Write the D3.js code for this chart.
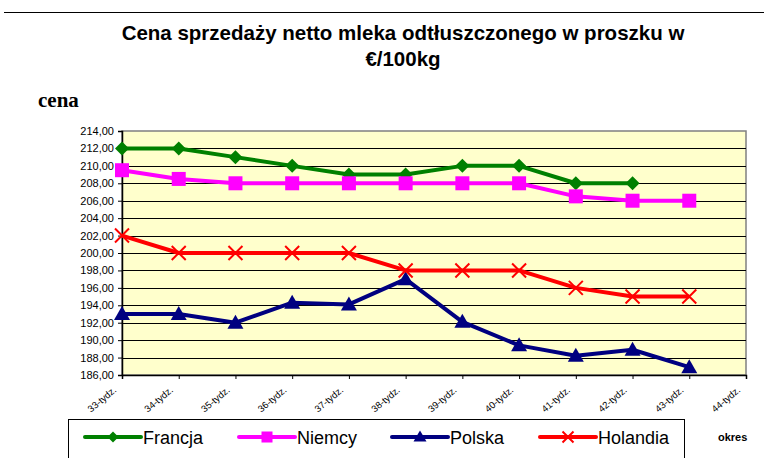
<!DOCTYPE html>
<html>
<head>
<meta charset="utf-8">
<script src="https://cdn.jsdelivr.net/npm/d3@7"></script>
<style>
  body { margin: 0; background: #fff; }
  svg { display: block; font-family: Arial, "Liberation Sans", sans-serif; }
</style>
</head>
<body>
<svg id="svg"></svg>
<script>
'use strict';

// ================================= data ======================================
var weeks = ["33-tydz.", "34-tydz.", "35-tydz.", "36-tydz.", "37-tydz.", "38-tydz.",
             "39-tydz.", "40-tydz.", "41-tydz.", "42-tydz.", "43-tydz.", "44-tydz."];
var francja  = [212, 212, 211, 210, 209, 209, 210, 210, 208, 208, null, null];
var niemcy   = [209.5, 208.5, 208, 208, 208, 208, 208, 208, 206.5, 206, 206, null];
var polska   = [193, 193, 192, 194.3, 194.1, 197, 192.1, 189.4, 188.2, 188.9, 186.9, null];
var holandia = [202, 200, 200, 200, 200, 198, 198, 198, 196, 195, 195, null];
var yTicks = [186, 188, 190, 192, 194, 196, 198, 200, 202, 204, 206, 208, 210, 212, 214];

var seriesNames = ["Francja", "Niemcy", "Polska", "Holandia"];
var seriesValues = [francja, niemcy, polska, holandia];
var seriesColors = ["#008000", "#ff00ff", "#000080", "#ff0000"];
var seriesMarkers = ["diamond", "square", "triangle", "cross"];

// ================================= layout ======================================
var width = 764, height = 458;
var plotL = 122, plotR = 746, plotT = 131, plotB = 375;

var svg = d3.select("#svg").attr("width", width).attr("height", height);

var x = d3.scalePoint().domain(weeks).range([plotL, plotR]);
var y = d3.scaleLinear().domain([186, 214]).range([plotB, plotT]);

var plLocale = d3.formatLocale({ decimal: ",", thousands: " ", grouping: [3], currency: ["", " €"] });
var fmt = plLocale.format(".2f");

// top rule of the page
svg.append("line")
    .attr("x1", 4).attr("x2", width).attr("y1", 12.5).attr("y2", 12.5)
    .attr("stroke", "#000").attr("stroke-width", 1.2);

// title
var title = svg.append("text")
    .attr("text-anchor", "middle")
    .attr("font-weight", "bold")
    .attr("font-size", 20.5)
    .attr("fill", "#000");
title.append("tspan").attr("x", 403).attr("y", 40).text("Cena sprzedaży netto mleka odtłuszczonego w proszku w");
title.append("tspan").attr("x", 403).attr("y", 66).text("€/100kg");

svg.append("text")
    .attr("x", 38).attr("y", 107)
    .attr("font-family", "'Liberation Serif', 'Times New Roman', serif")
    .attr("font-weight", "bold")
    .attr("font-size", 21)
    .text("cena");

// plot area
svg.append("rect")
    .attr("x", plotL).attr("y", plotT)
    .attr("width", plotR - plotL).attr("height", plotB - plotT)
    .attr("fill", "#ffffcc")
    .attr("stroke", "#808080")
    .attr("stroke-width", 1.5);

// gridlines
svg.append("g")
    .selectAll("line")
    .data(yTicks.filter(d => d > 186 && d < 214))
    .join("line")
    .attr("x1", plotL).attr("x2", plotR)
    .attr("y1", d => Math.round(y(d)) + 0.5).attr("y2", d => Math.round(y(d)) + 0.5)
    .attr("stroke", "#000").attr("stroke-width", 1);

// y axis
var yAxis = svg.append("g")
    .attr("transform", "translate(" + plotL + ",0)")
    .call(d3.axisLeft(y).tickValues(yTicks).tickFormat(fmt).tickSize(4).tickPadding(4));
yAxis.select(".domain").attr("stroke", "#000").attr("stroke-width", 1.5);
yAxis.selectAll("text").attr("font-size", 11).attr("font-family", "Arial, 'Liberation Sans', sans-serif").attr("fill", "#000");

// x axis
var xAxis = svg.append("g")
    .attr("transform", "translate(0," + plotB + ")")
    .call(d3.axisBottom(x).tickSize(4).tickFormat(""));
xAxis.select(".domain").attr("stroke", "#000").attr("stroke-width", 1.5);

svg.append("g")
    .selectAll("text")
    .data(weeks)
    .join("text")
    .attr("transform", d => "translate(" + (x(d) - 5) + "," + (plotB + 16) + ") rotate(-40)")
    .attr("text-anchor", "end")
    .attr("font-size", 9.5)
    .attr("fill", "#000")
    .text(d => d);

// ================================= markers ======================================
function drawMarker(g, type, cx, cy, color, s) {
    s = s || 7;
    if (type === "diamond") {
        g.append("path")
            .attr("d", "M" + cx + "," + (cy - s) + "L" + (cx + s) + "," + cy + "L" + cx + "," + (cy + s) + "L" + (cx - s) + "," + cy + "Z")
            .attr("fill", color);
    } else if (type === "square") {
        g.append("rect")
            .attr("x", cx - s).attr("y", cy - s).attr("width", 2 * s).attr("height", 2 * s)
            .attr("fill", color);
    } else if (type === "triangle") {
        g.append("path")
            .attr("d", "M" + cx + "," + (cy - s - 1) + "L" + (cx + s + 1) + "," + (cy + s - 1) + "L" + (cx - s - 1) + "," + (cy + s - 1) + "Z")
            .attr("fill", color);
    } else {
        g.append("path")
            .attr("d", "M" + (cx - s) + "," + (cy - s) + "L" + (cx + s) + "," + (cy + s) + "M" + (cx + s) + "," + (cy - s) + "L" + (cx - s) + "," + (cy + s))
            .attr("stroke", color).attr("stroke-width", 2).attr("fill", "none");
    }
}

var line = d3.line()
    .defined(d => d.v !== null)
    .x(d => x(d.w))
    .y(d => y(d.v));

seriesValues.forEach((vals, i) => {
    let pts = vals.map((v, j) => ({ w: weeks[j], v: v }));
    let g = svg.append("g");
    g.append("path")
        .datum(pts)
        .attr("d", line)
        .attr("fill", "none")
        .attr("stroke", seriesColors[i])
        .attr("stroke-width", 4)
        .attr("stroke-linejoin", "round");
    pts.filter(p => p.v !== null).forEach(p => {
        drawMarker(g, seriesMarkers[i], x(p.w), y(p.v), seriesColors[i]);
    });
});

// ================================= legend ======================================
var legend = svg.append("g");
legend.append("rect")
    .attr("x", 68.5).attr("y", 419.5).attr("width", 616).attr("height", 60)
    .attr("fill", "#fff").attr("stroke", "#000").attr("stroke-width", 1);

var legendX = [85, 239, 392, 540];
seriesNames.forEach((name, i) => {
    let lx = legendX[i], ly = 437;
    legend.append("line")
        .attr("x1", lx).attr("x2", lx + 56).attr("y1", ly).attr("y2", ly)
        .attr("stroke", seriesColors[i]).attr("stroke-width", 4).attr("stroke-linecap", "round");
    let mg = legend.append("g");
    drawMarker(mg, seriesMarkers[i], lx + 28, ly, seriesColors[i], 5.5);
    legend.append("text")
        .attr("x", lx + 58).attr("y", ly + 7)
        .attr("font-size", 18)
        .attr("fill", "#000")
        .text(name);
});

svg.append("text")
    .attr("x", 718).attr("y", 441)
    .attr("font-weight", "bold")
    .attr("font-size", 11)
    .text("okres");
</script>
</body>
</html>
